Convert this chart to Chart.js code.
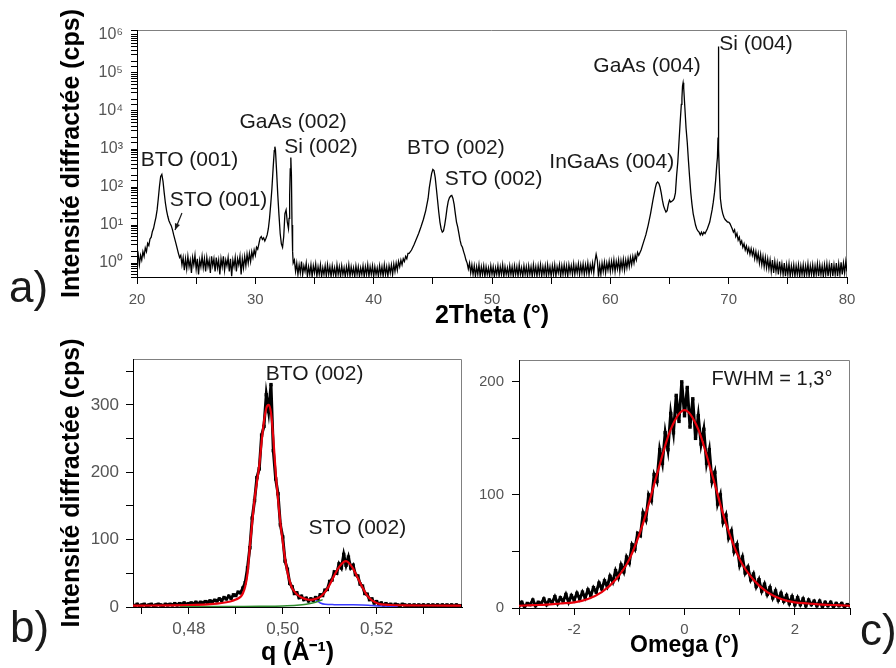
<!DOCTYPE html>
<html>
<head>
<meta charset="utf-8">
<script src="https://cdn.jsdelivr.net/npm/chart.js@4.4.1/dist/chart.umd.min.js"></script>
<style>
  body { margin: 0; background: #fff; width: 896px; height: 668px; position: relative; overflow: hidden; font-family: "Liberation Sans", Arial, sans-serif; }
  .box { position: absolute; }
  .tag { position: absolute; font-size: 44px; line-height: 44px; color: #1a1a1a; }
</style>
</head>
<body>
<div class="box" style="left:0;top:0;width:896px;height:340px"><canvas id="chartA" width="896" height="340"></canvas></div>
<div class="box" style="left:0;top:330px;width:480px;height:338px"><canvas id="chartB" width="480" height="338"></canvas></div>
<div class="box" style="left:480px;top:330px;width:416px;height:338px"><canvas id="chartC" width="416" height="338"></canvas></div>
<div class="tag" style="left:9px;top:265px">a)</div>
<div class="tag" style="left:10px;top:605px">b)</div>
<div class="tag" style="left:860px;top:608px">c)</div>
<script>
const FONT = '"Liberation Sans", Arial, sans-serif';
const SUP = ['⁰', '¹', '²', '³', '⁴', '⁵', '⁶'];

// a) 2Theta scan, log intensity
const twoTheta = [
  20.0, 20.1, 20.2, 20.3, 20.4, 20.5, 20.6, 20.7, 20.8, 20.9,
  21.0, 21.1, 21.2, 21.3, 21.4, 21.5, 21.6, 21.7, 21.8, 21.9,
  22.0, 22.1, 22.2, 22.3, 22.4, 22.5, 22.6, 22.7, 22.8, 22.9,
  23.0, 23.1, 23.2, 23.3, 23.4, 23.5, 23.6, 23.7, 23.8, 23.9,
  24.0, 24.1, 24.2, 24.3, 24.4, 24.5, 24.6, 24.7, 24.8, 24.9,
  25.0, 25.1, 25.2, 25.3, 25.4, 25.5, 25.6, 25.7, 25.8, 25.9,
  26.0, 26.1, 26.2, 26.3, 26.4, 26.5, 26.6, 26.7, 26.8, 26.9,
  27.0, 27.1, 27.2, 27.3, 27.4, 27.5, 27.6, 27.7, 27.8, 27.9,
  28.0, 28.1, 28.2, 28.3, 28.4, 28.5, 28.6, 28.7, 28.8, 28.9,
  29.0, 29.1, 29.2, 29.3, 29.4, 29.5, 29.6, 29.7, 29.8, 29.9,
  30.0, 30.1, 30.2, 30.3, 30.4, 30.5, 30.6, 30.7, 30.8, 30.9,
  31.0, 31.1, 31.2, 31.3, 31.4, 31.5, 31.6, 31.65, 31.7, 31.8,
  31.9, 32.0, 32.1, 32.2, 32.3, 32.4, 32.5, 32.6, 32.7, 32.8,
  32.85, 32.9, 32.95, 33.0, 33.05, 33.1, 33.15, 33.2, 33.3, 33.4,
  33.5, 33.6, 33.7, 33.8, 33.9, 34.0, 34.1, 34.2, 34.3, 34.4,
  34.5, 34.6, 34.7, 34.8, 34.9, 35.0, 35.1, 35.2, 35.3, 35.4,
  35.5, 35.6, 35.7, 35.8, 35.9, 36.0, 36.1, 36.2, 36.3, 36.4,
  36.5, 36.6, 36.7, 36.8, 36.9, 37.0, 37.1, 37.2, 37.3, 37.4,
  37.5, 37.6, 37.7, 37.8, 37.9, 38.0, 38.1, 38.2, 38.3, 38.4,
  38.5, 38.6, 38.7, 38.8, 38.9, 39.0, 39.1, 39.2, 39.3, 39.4,
  39.5, 39.6, 39.7, 39.8, 39.9, 40.0, 40.1, 40.2, 40.3, 40.4,
  40.5, 40.6, 40.7, 40.8, 40.9, 41.0, 41.1, 41.2, 41.3, 41.4,
  41.5, 41.6, 41.7, 41.8, 41.9, 42.0, 42.1, 42.2, 42.3, 42.4,
  42.5, 42.6, 42.7, 42.8, 42.9, 43.0, 43.2, 43.4, 43.6, 43.8,
  44.0, 44.2, 44.4, 44.6, 44.7, 44.8, 44.9, 45.0, 45.1, 45.2,
  45.3, 45.4, 45.5, 45.6, 45.7, 45.8, 45.9, 46.0, 46.1, 46.2,
  46.3, 46.4, 46.5, 46.6, 46.7, 46.8, 46.9, 47.0, 47.1, 47.2,
  47.3, 47.4, 47.5, 47.6, 47.7, 47.8, 47.9, 48.0, 48.1, 48.2,
  48.3, 48.4, 48.5, 48.6, 48.7, 48.8, 48.9, 49.0, 49.1, 49.2,
  49.3, 49.4, 49.5, 49.6, 49.7, 49.8, 49.9, 50.0, 50.1, 50.2,
  50.3, 50.4, 50.5, 50.6, 50.7, 50.8, 50.9, 51.0, 51.1, 51.2,
  51.3, 51.4, 51.5, 51.6, 51.7, 51.8, 51.9, 52.0, 52.1, 52.2,
  52.3, 52.4, 52.5, 52.6, 52.7, 52.8, 52.9, 53.0, 53.1, 53.2,
  53.3, 53.4, 53.5, 53.6, 53.7, 53.8, 53.9, 54.0, 54.1, 54.2,
  54.3, 54.4, 54.5, 54.6, 54.7, 54.8, 54.9, 55.0, 55.1, 55.2,
  55.3, 55.4, 55.5, 55.6, 55.7, 55.8, 55.9, 56.0, 56.1, 56.2,
  56.3, 56.4, 56.5, 56.6, 56.7, 56.8, 56.9, 57.0, 57.1, 57.2,
  57.3, 57.4, 57.5, 57.6, 57.7, 57.8, 57.9, 58.0, 58.1, 58.2,
  58.3, 58.4, 58.5, 58.6, 58.7, 58.8, 58.9, 59.0, 59.1, 59.2,
  59.3, 59.4, 59.5, 59.6, 59.7, 59.8, 59.9, 60.0, 60.1, 60.2,
  60.3, 60.4, 60.5, 60.6, 60.7, 60.8, 60.9, 61.0, 61.1, 61.2,
  61.3, 61.4, 61.5, 61.6, 61.7, 61.8, 61.9, 62.0, 62.1, 62.2,
  62.3, 62.4, 62.6, 62.8, 63.0, 63.2, 63.4, 63.6, 63.8, 63.9,
  64.0, 64.1, 64.2, 64.3, 64.4, 64.5, 64.6, 64.7, 64.8, 64.9,
  65.0, 65.1, 65.2, 65.3, 65.4, 65.5, 65.6, 65.7, 65.8, 65.9,
  66.0, 66.05, 66.1, 66.15, 66.2, 66.3, 66.4, 66.5, 66.6, 66.7,
  66.8, 66.9, 67.0, 67.1, 67.2, 67.3, 67.4, 67.5, 67.6, 67.7,
  67.8, 67.9, 68.0, 68.2, 68.4, 68.6, 68.7, 68.8, 68.9, 69.0,
  69.05, 69.1, 69.12, 69.15, 69.17, 69.2, 69.3, 69.4, 69.5, 69.6,
  69.7, 69.8, 69.9, 70.0, 70.1, 70.2, 70.3, 70.4, 70.5, 70.6,
  70.7, 70.8, 70.9, 71.0, 71.1, 71.2, 71.3, 71.4, 71.5, 71.6,
  71.7, 71.8, 71.9, 72.0, 72.1, 72.2, 72.3, 72.4, 72.5, 72.6,
  72.7, 72.8, 72.9, 73.0, 73.1, 73.2, 73.3, 73.4, 73.5, 73.6,
  73.7, 73.8, 73.9, 74.0, 74.1, 74.2, 74.3, 74.4, 74.5, 74.6,
  74.7, 74.8, 74.9, 75.0, 75.1, 75.2, 75.3, 75.4, 75.5, 75.6,
  75.7, 75.8, 75.9, 76.0, 76.1, 76.2, 76.3, 76.4, 76.5, 76.6,
  76.7, 76.8, 76.9, 77.0, 77.1, 77.2, 77.3, 77.4, 77.5, 77.6,
  77.7, 77.8, 77.9, 78.0, 78.1, 78.2, 78.3, 78.4, 78.5, 78.6,
  78.7, 78.8, 78.9, 79.0, 79.1, 79.2, 79.3, 79.4, 79.5, 79.6,
  79.7, 79.8, 79.9, 80.0
];
const countsA = [
  1.2, 1.7, 0.9, 1.6, 1.2, 2.0, 1.5, 2.5, 2.0, 3.3,
  2.9, 4.3, 4.8, 6.8, 8.2, 11.5, 16, 25, 50, 105,
  190, 215, 140, 70, 38, 24, 17, 13, 11, 9.5,
  7.5, 5.5, 4.2, 3.2, 2.4, 1.8, 1.4, 1.6, 0.9, 1.4,
  0.65, 1.3, 0.7, 1.5, 0.8, 1.2, 0.55, 1.4, 0.9, 1.6,
  0.7, 1.3, 0.5, 1.2, 0.8, 1.5, 0.75, 1.3, 0.6, 1.4,
  0.8, 1.2, 0.55, 1.5, 0.85, 1.3, 0.6, 1.4, 0.75, 1.2,
  0.5, 1.3, 0.8, 1.5, 0.65, 1.2, 0.85, 1.4, 0.6, 1.3,
  0.45, 1.2, 0.8, 1.4, 0.6, 1.3, 0.9, 1.5, 0.5, 1.3,
  0.75, 1.5, 0.85, 1.7, 1.0, 1.8, 1.1, 2.0, 1.4, 2.2,
  1.6, 2.6, 2.3, 3.2, 4.5, 5.0, 4.2, 4.6, 3.8, 4.5,
  5.5, 8, 15, 35, 90, 300, 900, 1150, 950, 250,
  60, 18, 6, 3.2, 2.6, 5, 20, 25, 12, 8,
  15, 60, 300, 600, 200, 10, 2, 1.0, 1.2, 0.6,
  1.0, 0.5, 0.9, 0.55, 1.1, 0.5, 0.85, 0.6, 1.0, 0.45,
  0.8, 0.5, 0.9, 0.44, 0.85, 0.55, 0.95, 0.45, 0.8, 0.5,
  0.9, 0.44, 0.75, 0.5, 0.85, 0.45, 0.9, 0.5, 0.8, 0.44,
  0.85, 0.5, 0.75, 0.44, 0.9, 0.5, 0.8, 0.45, 0.85, 0.5,
  0.75, 0.44, 0.8, 0.5, 0.9, 0.45, 0.8, 0.5, 0.75, 0.44,
  0.85, 0.5, 0.8, 0.45, 0.75, 0.5, 0.85, 0.44, 0.8, 0.5,
  0.9, 0.45, 0.8, 0.5, 0.85, 0.44, 0.8, 0.5, 0.75, 0.45,
  0.85, 0.5, 0.8, 0.45, 0.9, 0.5, 0.8, 0.45, 0.85, 0.55,
  0.9, 0.5, 0.95, 0.6, 1.0, 0.65, 1.1, 0.8, 1.2, 0.9,
  1.3, 1.1, 1.5, 1.3, 1.8, 1.8, 2.2, 3.0, 4.2, 6,
  9, 14, 24, 50, 95, 150, 230, 290, 270, 180,
  90, 45, 22, 12, 8, 6.5, 7, 10, 16, 28,
  42, 52, 58, 60, 50, 35, 20, 12, 9, 6,
  4, 3, 2.6, 2.0, 1.6, 1.2, 1.0, 0.7, 1.0, 0.55,
  0.9, 0.5, 0.85, 0.45, 0.8, 0.5, 0.9, 0.45, 0.8, 0.5,
  0.85, 0.44, 0.8, 0.5, 0.75, 0.45, 0.85, 0.5, 0.8, 0.44,
  0.75, 0.5, 0.85, 0.45, 0.8, 0.5, 0.9, 0.44, 0.8, 0.5,
  0.75, 0.45, 0.85, 0.5, 0.8, 0.44, 0.85, 0.5, 0.8, 0.45,
  0.9, 0.5, 0.75, 0.44, 0.85, 0.5, 0.8, 0.45, 0.85, 0.5,
  0.8, 0.44, 0.9, 0.5, 0.8, 0.45, 0.85, 0.5, 0.9, 0.45,
  0.8, 0.5, 0.85, 0.45, 0.9, 0.5, 0.8, 0.45, 0.85, 0.5,
  0.9, 0.45, 0.8, 0.55, 0.9, 0.45, 0.85, 0.5, 0.9, 0.5,
  0.85, 0.45, 0.9, 0.55, 0.85, 0.5, 0.95, 0.5, 0.85, 0.55,
  0.95, 0.5, 0.9, 0.55, 0.95, 0.5, 0.9, 0.55, 1.0, 0.5,
  0.9, 0.6, 1.0, 0.55, 1.1, 1.7, 1.2, 0.44, 0.9, 0.5,
  1.0, 0.6, 1.05, 0.55, 1.0, 0.65, 1.1, 0.6, 1.1, 0.65,
  1.2, 0.6, 1.1, 0.7, 1.2, 0.6, 1.15, 0.7, 1.25, 0.65,
  1.2, 0.75, 1.3, 0.8, 1.4, 0.9, 1.5, 1.0, 1.6, 1.2,
  1.9, 1.6, 2.2, 3.5, 5.5, 10, 20, 45, 95, 125,
  135, 125, 100, 70, 45, 32, 26, 22, 24, 35,
  45, 40, 42, 45, 50, 70, 200, 450, 1500, 5000,
  15000, 22000, 45000, 55000, 40000, 12000, 3500, 1500, 500, 180,
  70, 35, 20, 14, 10, 8, 7, 6.5, 5.5, 6.5,
  5.5, 6.5, 6, 8, 12, 25, 40, 70, 150, 400,
  600, 2000, 500000, 500000, 1000, 300, 50, 28, 20, 16,
  14, 13, 12, 12, 11, 9.5, 8, 6.5, 7.5, 5,
  6, 4, 4.8, 3.2, 3.8, 2.6, 3.2, 2.2, 2.8, 1.9,
  2.5, 1.7, 2.4, 1.6, 2.2, 1.3, 2.0, 1.2, 1.8, 1.0,
  1.7, 0.9, 1.5, 0.8, 1.4, 0.75, 1.3, 0.7, 1.2, 0.6,
  1.2, 0.55, 1.1, 0.6, 1.0, 0.5, 1.1, 0.55, 0.95, 0.5,
  1.0, 0.45, 0.9, 0.5, 0.95, 0.45, 0.85, 0.5, 0.9, 0.45,
  0.85, 0.5, 0.9, 0.44, 0.85, 0.5, 0.9, 0.45, 0.85, 0.5,
  0.95, 0.45, 0.85, 0.5, 0.9, 0.44, 0.85, 0.5, 0.95, 0.45,
  0.9, 0.5, 0.85, 0.44, 0.9, 0.5, 0.95, 0.45, 0.9, 0.5,
  1.0, 0.45, 0.9, 0.5, 1.0, 0.45, 0.95, 0.5, 1.05, 0.5,
  1.0, 0.55, 1.1, 0.6
];

// b) q scan with fit and components
const qData = [
  0.4680, 0.4685, 0.4690, 0.4695, 0.4700, 0.4705, 0.4710, 0.4715, 0.4720, 0.4725,
  0.4730, 0.4735, 0.4740, 0.4745, 0.4750, 0.4755, 0.4760, 0.4765, 0.4770, 0.4775,
  0.4780, 0.4785, 0.4790, 0.4795, 0.4800, 0.4805, 0.4810, 0.4815, 0.4820, 0.4825,
  0.4830, 0.4835, 0.4840, 0.4845, 0.4850, 0.4855, 0.4860, 0.4865, 0.4870, 0.4875,
  0.4880, 0.4885, 0.4890, 0.4895, 0.4900, 0.4905, 0.4910, 0.4915, 0.4920, 0.4925,
  0.4930, 0.4935, 0.4940, 0.4945, 0.4950, 0.4955, 0.4960, 0.4965, 0.4970, 0.4975,
  0.4980, 0.4985, 0.4990, 0.4995, 0.5000, 0.5005, 0.5010, 0.5015, 0.5020, 0.5025,
  0.5030, 0.5035, 0.5040, 0.5045, 0.5050, 0.5055, 0.5060, 0.5065, 0.5070, 0.5075,
  0.5080, 0.5085, 0.5090, 0.5095, 0.5100, 0.5105, 0.5110, 0.5115, 0.5120, 0.5125,
  0.5130, 0.5135, 0.5140, 0.5145, 0.5150, 0.5155, 0.5160, 0.5165, 0.5170, 0.5175,
  0.5180, 0.5185, 0.5190, 0.5195, 0.5200, 0.5205, 0.5210, 0.5215, 0.5220, 0.5225,
  0.5230, 0.5235, 0.5240, 0.5245, 0.5250, 0.5255, 0.5260, 0.5265, 0.5270, 0.5275,
  0.5280, 0.5285, 0.5290, 0.5295, 0.5300, 0.5305, 0.5310, 0.5315, 0.5320, 0.5325,
  0.5330, 0.5335, 0.5340, 0.5345, 0.5350, 0.5355, 0.5360, 0.5365, 0.5370, 0.5375,
  0.5380
];
const countsB = [
  3, 2, 4, 2, 3, 4, 2, 3, 4, 2,
  3, 4, 3, 2, 4, 3, 4, 3, 5, 3,
  5, 4, 6, 4, 5, 6, 5, 7, 5, 7,
  6, 8, 7, 9, 8, 10, 9, 12, 10, 14,
  12, 16, 13, 18, 17, 22, 21, 28, 36, 58,
  88, 132, 158, 192, 205, 255, 268, 315, 290, 330,
  232, 190, 168, 122, 104, 68, 56, 35, 30, 20,
  21, 14, 16, 11, 13, 9, 12, 10, 14, 12,
  18, 17, 25, 26, 38, 40, 52, 50, 64, 58,
  78, 62, 74, 58, 62, 48, 46, 34, 31, 20,
  19, 11, 12, 6, 8, 4, 6, 3, 5, 3,
  4, 2, 4, 3, 2, 4, 3, 2, 3, 2,
  3, 2, 3, 2, 3, 1, 3, 2, 3, 2,
  3, 1, 3, 2, 3, 2, 3, 1, 3, 2,
  2
];
const qFit = [
  0.468, 0.472, 0.476, 0.480, 0.484, 0.486, 0.488, 0.489, 0.490, 0.491,
  0.4915, 0.492, 0.4925, 0.493, 0.4935, 0.494, 0.4945, 0.495, 0.4955, 0.496,
  0.4965, 0.497, 0.4975, 0.498, 0.4985, 0.499, 0.4995, 0.500, 0.5005, 0.501,
  0.5015, 0.502, 0.503, 0.504, 0.505, 0.506, 0.507, 0.508, 0.509, 0.510,
  0.511, 0.512, 0.513, 0.5135, 0.514, 0.515, 0.516, 0.517, 0.518, 0.519,
  0.520, 0.521, 0.523, 0.526, 0.530, 0.538
];
const fitB = [
  2, 2.2, 2.5, 3, 4, 5, 7, 8.5, 11, 15,
  20, 30, 50, 90, 125, 160, 185, 210, 245, 275,
  295, 300, 288, 250, 200, 160, 125, 97, 72, 52,
  38, 28, 19, 14, 11.5, 10.5, 12, 15, 22, 33,
  47, 59, 67, 68, 66, 57, 43, 29, 17, 10,
  6, 4, 3, 2.5, 2.2, 2
];
const qGreen = [0.478, 0.485, 0.490, 0.495, 0.500, 0.503, 0.505, 0.507, 0.5085];
const greenB = [0.5, 0.6, 0.8, 1.0, 1.5, 2.5, 4, 7, 11];
const qBlue = [0.507, 0.508, 0.509, 0.511, 0.514, 0.517, 0.519, 0.521, 0.5245];
const blueB = [10, 6, 4, 3.5, 3.2, 3, 2.2, 1.5, 1.2];

// c) omega rocking curve with fit
const omegaData = [
  -3.00, -2.95, -2.90, -2.85, -2.80, -2.75, -2.70, -2.65, -2.60, -2.55,
  -2.50, -2.45, -2.40, -2.35, -2.30, -2.25, -2.20, -2.15, -2.10, -2.05,
  -2.00, -1.95, -1.90, -1.85, -1.80, -1.75, -1.70, -1.65, -1.60, -1.55,
  -1.50, -1.45, -1.40, -1.35, -1.30, -1.25, -1.20, -1.15, -1.10, -1.05,
  -1.00, -0.95, -0.90, -0.85, -0.80, -0.75, -0.70, -0.65, -0.60, -0.55,
  -0.50, -0.45, -0.40, -0.35, -0.30, -0.25, -0.20, -0.15, -0.10, -0.05,
  0.00, 0.05, 0.10, 0.15, 0.20, 0.25, 0.30, 0.35, 0.40, 0.45,
  0.50, 0.55, 0.60, 0.65, 0.70, 0.75, 0.80, 0.85, 0.90, 0.95,
  1.00, 1.05, 1.10, 1.15, 1.20, 1.25, 1.30, 1.35, 1.40, 1.45,
  1.50, 1.55, 1.60, 1.65, 1.70, 1.75, 1.80, 1.85, 1.90, 1.95,
  2.00, 2.05, 2.10, 2.15, 2.20, 2.25, 2.30, 2.35, 2.40, 2.45,
  2.50, 2.55, 2.60, 2.65, 2.70, 2.75, 2.80, 2.85, 2.90, 2.95,
  3.00
];
const countsC = [
  2, 5, 1, 4, 3, 7, 2, 5, 4, 8,
  3, 7, 5, 10, 4, 9, 6, 12, 5, 11,
  7, 13, 8, 14, 9, 16, 11, 18, 14, 22,
  17, 24, 19, 28, 23, 33, 27, 38, 32, 45,
  40, 56, 52, 66, 64, 84, 78, 100, 95, 118,
  112, 140, 128, 155, 140, 172, 155, 188, 165, 200,
  170, 195, 160, 185, 150, 170, 145, 158, 128, 140,
  112, 120, 92, 100, 76, 82, 62, 68, 50, 56,
  38, 45, 31, 36, 25, 30, 19, 25, 15, 21,
  12, 18, 9, 15, 7, 13, 6, 11, 4, 10,
  3, 9, 3, 8, 2, 7, 3, 6, 2, 6,
  1, 5, 2, 5, 1, 4, 2, 4, 1, 3,
  2
];
const omegaFit = [-3, -2.75, -2.5, -2.25, -2, -1.75, -1.5, -1.25, -1, -0.75, -0.5, -0.25, 0,
  0.25, 0.5, 0.75, 1, 1.25, 1.5, 1.75, 2, 2.25, 2.5, 2.75, 3];
const fitC = [2, 2.5, 3, 4, 5, 8, 14, 25, 43, 75, 118, 158, 175,
  158, 118, 75, 43, 25, 14, 8, 5, 4, 3, 2.5, 2];

// peak labels, in data units
const labelsA = [
  { text: 'BTO (001)', x: 24.44, y: 514 },
  { text: 'STO (001)', x: 26.89, y: 45.5 },
  { text: 'GaAs (002)', x: 33.19, y: 4980 },
  { text: 'Si (002)', x: 35.55, y: 1095 },
  { text: 'BTO (002)', x: 46.95, y: 1062 },
  { text: 'STO (002)', x: 50.14, y: 157 },
  { text: 'InGaAs (004)', x: 60.12, y: 441 },
  { text: 'GaAs (004)', x: 63.10, y: 148000 },
  { text: 'Si (004)', x: 72.31, y: 580000 }
];
const arrowA = { from: [23.80, 20.7], to: [23.21, 7.4] };
const labelsB = [
  { text: 'BTO (002)', x: 0.5068, y: 346 },
  { text: 'STO (002)', x: 0.5159, y: 117 }
];
const labelsC = [
  { text: 'FWHM = 1,3°', x: 1.586, y: 202 }
];

const pts = (xs, ys) => xs.map((x, i) => ({ x, y: ys[i] }));

// plot box: black left/bottom axes, grey top/right
const framePlugin = {
  id: 'frame',
  beforeDatasetsDraw(chart) {
    const { ctx, chartArea: a } = chart;
    ctx.save();
    ctx.lineWidth = 1;
    ctx.strokeStyle = '#808080';
    ctx.beginPath();
    ctx.moveTo(a.left, a.top + 0.5);
    ctx.lineTo(a.right - 0.5, a.top + 0.5);
    ctx.lineTo(a.right - 0.5, a.bottom);
    ctx.stroke();
    ctx.strokeStyle = '#000';
    ctx.beginPath();
    ctx.moveTo(a.left + 0.5, a.top);
    ctx.lineTo(a.left + 0.5, a.bottom + 0.5);
    ctx.lineTo(a.right, a.bottom + 0.5);
    ctx.stroke();
    ctx.restore();
  }
};

function notes(items, size, arrow) {
  return {
    id: 'notes',
    afterDatasetsDraw(chart) {
      const { ctx, scales: { x, y } } = chart;
      ctx.save();
      ctx.fillStyle = '#1a1a1a';
      ctx.strokeStyle = '#1a1a1a';
      ctx.font = size + 'px ' + FONT;
      ctx.textAlign = 'center';
      ctx.textBaseline = 'middle';
      items.forEach(n => ctx.fillText(n.text, x.getPixelForValue(n.x), y.getPixelForValue(n.y)));
      if (arrow) {
        const x0 = x.getPixelForValue(arrow.from[0]), y0 = y.getPixelForValue(arrow.from[1]);
        const x1 = x.getPixelForValue(arrow.to[0]), y1 = y.getPixelForValue(arrow.to[1]);
        const ang = Math.atan2(y1 - y0, x1 - x0);
        ctx.lineWidth = 1.2;
        ctx.beginPath();
        ctx.moveTo(x0, y0);
        ctx.lineTo(x1, y1);
        ctx.stroke();
        ctx.beginPath();
        ctx.moveTo(x1, y1);
        ctx.lineTo(x1 - 7 * Math.cos(ang - 0.4), y1 - 7 * Math.sin(ang - 0.4));
        ctx.lineTo(x1 - 7 * Math.cos(ang + 0.4), y1 - 7 * Math.sin(ang + 0.4));
        ctx.closePath();
        ctx.fill();
      }
      ctx.restore();
    }
  };
}

function axis(o) {
  return {
    type: o.type || 'linear',
    min: o.min,
    max: o.max,
    afterFit: o.fit,
    border: { color: '#000', width: 1 },
    grid: { drawOnChartArea: false, color: '#000', tickLength: o.tick || 6 },
    ticks: {
      stepSize: o.step,
      includeBounds: false,
      autoSkip: false,
      maxRotation: 0,
      padding: o.pad,
      color: '#555',
      font: { family: FONT, size: o.tickSize },
      callback: o.label
    },
    title: {
      display: !!o.title,
      text: o.title,
      color: '#000',
      font: { family: FONT, size: o.titleSize || 25, weight: 'bold' },
      padding: o.titlePad || 0
    }
  };
}

const base = {
  responsive: false,
  animation: false,
  events: [],
  plugins: { legend: { display: false }, tooltip: { enabled: false } }
};

new Chart(document.getElementById('chartA'), {
  type: 'scatter',
  data: {
    datasets: [{
      data: pts(twoTheta, countsA), showLine: true, borderColor: '#000',
      borderWidth: 1.3, pointRadius: 0
    }]
  },
  options: Object.assign({}, base, {
    layout: { padding: { left: 0, top: 30, right: 49, bottom: 0 } },
    scales: {
      x: axis({ min: 20, max: 80, step: 5, tick: 7, pad: 7, tickSize: 15,
        fit: s => { s.height = 63; },
        label: v => (v % 10 === 0 ? String(v) : ''),
        title: '2Theta (°)', titlePad: { top: 0, bottom: 9 } }),
      y: axis({ type: 'logarithmic', min: 0.43, max: 1.35e6, tick: 6, pad: 8, tickSize: 16,
        fit: s => { s.width = 137; },
        label: v => {
          const e = Math.log10(v);
          return Math.abs(e - Math.round(e)) < 1e-6 ? '10' + SUP[Math.round(e)] : '';
        },
        title: 'Intensité diffractée (cps)', titlePad: { top: 57, bottom: 0 } })
    }
  }),
  plugins: [framePlugin, notes(labelsA, 21, arrowA)]
});

new Chart(document.getElementById('chartB'), {
  type: 'scatter',
  data: {
    datasets: [
      { data: pts(qFit, fitB), showLine: true, borderColor: '#e8000b', borderWidth: 2.2,
        pointRadius: 0, cubicInterpolationMode: 'monotone' },
      { data: pts(qGreen, greenB), showLine: true, borderColor: '#2e8b2e', borderWidth: 1.5,
        pointRadius: 0, cubicInterpolationMode: 'monotone' },
      { data: pts(qBlue, blueB), showLine: true, borderColor: '#3a3aff', borderWidth: 1.5,
        pointRadius: 0, cubicInterpolationMode: 'monotone' },
      { data: pts(qData, countsB), showLine: true, borderColor: '#000', borderWidth: 3,
        pointRadius: 2.4, pointStyle: 'rect', backgroundColor: '#000', pointBorderWidth: 0 }
    ]
  },
  options: Object.assign({}, base, {
    layout: { padding: { left: 0, top: 29, right: 18, bottom: 0 } },
    scales: {
      x: axis({ min: 0.4681, max: 0.5382, step: 0.01, tick: 7, pad: 5, tickSize: 17,
        fit: s => { s.height = 61; },
        label: v => {
          const k = Math.round(v * 100);
          return k % 2 === 0 ? (k / 100).toFixed(2).replace('.', ',') : '';
        },
        title: 'q (Å⁻¹)', titlePad: { top: 0, bottom: 0 } }),
      y: axis({ min: 0, max: 368, step: 50, tick: 7, pad: 7, tickSize: 17,
        fit: s => { s.width = 133; },
        label: v => (v % 100 === 0 ? String(v) : ''),
        title: 'Intensité diffractée (cps)', titlePad: { top: 57, bottom: 0 } })
    }
  }),
  plugins: [framePlugin, notes(labelsB, 21)]
});

new Chart(document.getElementById('chartC'), {
  type: 'scatter',
  data: {
    datasets: [
      { data: pts(omegaFit, fitC), showLine: true, borderColor: '#e8000b', borderWidth: 2.2,
        pointRadius: 0, cubicInterpolationMode: 'monotone' },
      { data: pts(omegaData, countsC), showLine: true, borderColor: '#000', borderWidth: 3,
        pointRadius: 2.4, pointStyle: 'rect', backgroundColor: '#000', pointBorderWidth: 0 }
    ]
  },
  options: Object.assign({}, base, {
    layout: { padding: { left: 0, top: 30, right: 46, bottom: 0 } },
    scales: {
      x: axis({ min: -3, max: 3, step: 1, tick: 7, pad: 6, tickSize: 15,
        fit: s => { s.height = 60; },
        label: v => (Math.round(v) % 2 === 0 ? String(v) : ''),
        title: 'Omega (°)', titleSize: 23, titlePad: { top: 0, bottom: 9 } }),
      y: axis({ min: 0, max: 219.3, step: 50, tick: 7, pad: 8, tickSize: 15,
        fit: s => { s.width = 39; },
        label: v => (v % 100 === 0 ? String(v) : '') })
    }
  }),
  plugins: [framePlugin, notes(labelsC, 20)]
});
</script>
</body>
</html>
